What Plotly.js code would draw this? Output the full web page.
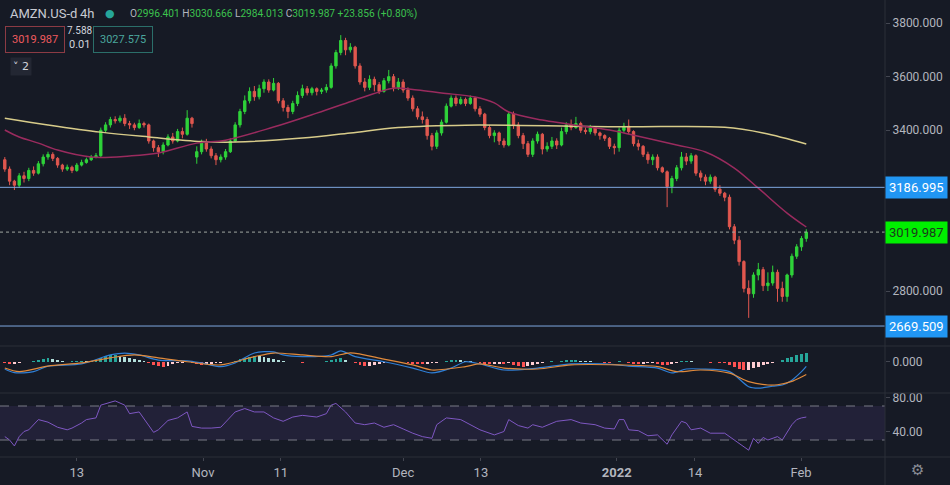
<!DOCTYPE html>
<html><head><meta charset="utf-8">
<script src="https://cdn.plot.ly/plotly-3.0.1.min.js"></script>
<style>html,body{margin:0;padding:0;background:#161a25;}#chart{width:950px;height:485px;}</style>
</head><body><div id="chart"></div>
<script>
// ---- data (4h bars, index 0..167) ----
const openP = [
3290,3255,3210,3195,3230,3220,3250,3240,3275,3300,
3310,3295,3270,3255,3262,3250,3270,3280,3290,3300,
3305,3400,3420,3440,3435,3445,3425,3420,3410,3425,
3420,3360,3335,3320,3345,3375,3360,3395,3385,3445,
3300,3320,3355,3330,3305,3290,3300,3320,3360,3420,
3470,3510,3545,3525,3555,3580,3550,3575,3510,3485,
3470,3500,3530,3555,3540,3555,3545,3550,3560,3640,
3690,3735,3700,3710,3640,3580,3560,3590,3570,3545,
3585,3600,3560,3580,3550,3520,3480,3450,3440,3380,
3340,3390,3430,3490,3520,3500,3515,3500,3520,3480,
3460,3410,3380,3390,3360,3345,3460,3420,3380,3350,
3310,3360,3385,3330,3340,3360,3345,3395,3420,3410,
3425,3400,3395,3410,3390,3380,3370,3340,3335,3400,
3415,3395,3350,3340,3310,3290,3300,3260,3245,3190,
3220,3260,3300,3285,3305,3240,3225,3210,3225,3180,
3165,3150,3040,2990,2910,2810,2790,2860,2880,2820,
2830,2870,2810,2780,2860,2930,2965,2996.401];
const highP = [
3300,3265,3215,3240,3245,3260,3265,3285,3310,3320,
3318,3300,3275,3272,3268,3278,3290,3298,3308,3315,
3410,3430,3450,3452,3455,3460,3435,3428,3440,3432,
3425,3365,3345,3355,3385,3390,3405,3410,3475,3450,
3340,3365,3368,3340,3315,3310,3330,3370,3430,3480,
3530,3560,3565,3570,3590,3590,3595,3580,3520,3495,
3510,3545,3570,3565,3562,3560,3558,3572,3650,3700,
3755,3745,3725,3715,3650,3595,3605,3600,3580,3595,
3625,3610,3595,3590,3560,3530,3490,3470,3450,3390,
3400,3440,3500,3530,3530,3525,3522,3530,3525,3490,
3465,3420,3400,3395,3370,3470,3470,3430,3390,3360,
3370,3395,3390,3355,3375,3370,3410,3430,3440,3450,
3432,3410,3420,3415,3395,3385,3375,3350,3410,3428,
3440,3400,3365,3345,3320,3310,3310,3265,3250,3230,
3270,3319,3315,3315,3310,3250,3235,3235,3230,3195,
3170,3160,3050,3005,2915,2840,2870,2905,2890,2870,
2895,2880,2835,2865,2940,2975,3005,3030.666];
const lowP = [
3245,3195,3177,3185,3205,3210,3230,3235,3265,3290,
3285,3260,3245,3248,3240,3245,3265,3275,3285,3295,
3300,3390,3410,3425,3428,3415,3405,3400,3405,3410,
3350,3320,3300,3310,3340,3350,3355,3370,3380,3410,
3275,3310,3320,3295,3270,3280,3290,3315,3355,3410,
3460,3500,3510,3515,3540,3540,3545,3500,3470,3445,
3460,3490,3520,3530,3530,3530,3535,3540,3555,3630,
3680,3680,3690,3630,3570,3545,3550,3545,3535,3540,
3575,3545,3550,3540,3510,3470,3440,3425,3365,3325,
3330,3380,3425,3485,3490,3495,3490,3495,3470,3450,
3400,3370,3355,3345,3335,3340,3405,3370,3330,3300,
3300,3350,3310,3320,3330,3330,3340,3385,3400,3405,
3390,3385,3385,3380,3365,3360,3330,3310,3320,3390,
3385,3340,3325,3300,3275,3270,3250,3240,3113,3165,
3210,3250,3270,3275,3230,3210,3195,3200,3170,3155,
3135,3030,2975,2895,2795,2700,2775,2840,2800,2800,
2820,2760,2760,2760,2850,2920,2950,2984.013];
const closeP = [
3255,3210,3195,3230,3220,3250,3240,3275,3300,3310,
3295,3270,3255,3262,3250,3270,3280,3290,3300,3305,
3400,3420,3440,3435,3445,3425,3420,3410,3425,3420,
3360,3335,3320,3345,3375,3360,3395,3385,3445,3425,
3320,3355,3330,3305,3290,3300,3320,3360,3420,3470,
3510,3545,3525,3555,3580,3550,3575,3510,3485,3470,
3500,3530,3555,3540,3555,3545,3550,3560,3640,3690,
3735,3700,3710,3640,3580,3560,3590,3570,3545,3585,
3600,3560,3580,3550,3520,3480,3450,3440,3380,3340,
3390,3430,3490,3520,3500,3515,3500,3520,3480,3460,
3410,3380,3390,3360,3345,3460,3420,3380,3350,3310,
3360,3385,3330,3340,3360,3345,3395,3420,3410,3425,
3400,3395,3410,3390,3380,3370,3340,3335,3400,3415,
3395,3350,3340,3310,3290,3300,3260,3245,3190,3220,
3260,3300,3285,3305,3240,3225,3210,3225,3180,3165,
3150,3040,2990,2910,2810,2790,2860,2880,2820,2830,
2870,2810,2780,2860,2930,2965,2996,3019.987];

// moving averages
const ma50Idx = [0,3,7,11,18,26,32,40,46,56,65,73,78,81,86,91,98,102,105,112,126,129,140,146,152,157,163,167];
const ma50Val = [3401,3375,3352,3326,3300,3304,3315,3352,3363,3412,3464,3513,3543,3557,3550,3539,3524,3502,3468,3438,3401,3390,3345,3319,3259,3184,3091,3039];
const ma200Idx = [0,9,20,30,41,48,62,72,82,96,128,150,158,167];
const ma200Val = [3445,3420,3393,3375,3358,3356,3371,3390,3410,3419,3413,3411,3390,3349];

// MACD
const macdIdx = [0,2,6,9,16,22,25,28,32,38,41,45,48,52,56,58,62,68,70,73,79,85,89,93,96,99,104,111,118,125,130,136,139,142,145,151,155,157,160,162,164,166,167];
const macdVal = [-29,-44,-40,-17,-8,29,37,29,8,5,-4,-19,-4,37,42,29,22,29,46,22,1,-25,-45,-25,1,-8,-33,-25,-8,-8,-17,-25,-45,-29,-29,-40,-102,-108,-100,-95,-75,-40,-18];
const sigIdx = [0,3,9,16,22,27,32,38,45,52,56,62,68,72,79,85,89,96,99,104,111,118,128,136,140,145,151,155,159,161,164,166,167];
const sigVal = [-25,-40,-17,-4,17,29,17,1,-12,22,37,29,22,38,12,-12,-33,-19,-8,-25,-29,-12,-12,-19,-40,-33,-46,-81,-95,-94,-80,-62,-52];
const hist = [
-6,-8,-7,-4,
-1,2,3,
8,12,15,12,8,
4,2,3,5,6,5,6,
10,18,24,27,28,26,22,18,14,
9,4,
-6,-14,-18,-20,-16,
-10,-6,-3,-2,
-6,-10,-11,-9,-8,-6,
-4,-2,2,6,
12,18,22,25,24,20,16,12,8,
4,2,-1,-2,
-3,1,2,-1,1,3,
9,14,15,10,
2,-6,-12,-16,-15,-12,-9,
-5,-2,1,2,-2,-4,
-7,-9,-10,-8,-6,-3,2,
6,9,10,9,6,3,
-2,-6,-9,-10,-8,-7,
-10,-6,-12,-16,-19,-15,-12,-8,
-3,1,3,2,4,
7,8,8,6,5,3,
1,-2,-3,-4,-1,3,
2,-3,-7,-9,-8,-6,
-5,-8,-12,-14,-9,-4,
3,5,4,2,1,
-2,-3,-2,-4,-6,
-12,-20,-28,-33,-32,-26,-20,
-14,-8,-4,-1,
8,15,22,28,33,37];

// RSI
const rsiIdx = [0,1,2,3,4,5,7,9,11,13,14,16,17,19,20,23,25,26,28,30,31,32,34,36,38,39,41,43,45,48,50,52,54,56,58,60,62,65,67,68,69,71,73,75,77,79,81,83,85,87,89,90,92,95,97,99,102,104,105,107,109,110,112,115,118,120,123,125,127,128,129,130,132,134,136,138,139,141,142,143,145,147,150,152,153,155,156,157,158,159,161,162,164,165,166,167];
const rsiVal = [34,30,23,34,40,42,54,51,45,42,44,50,54,56,71,76,71,61,63,46,39,42,53,56,63,46,44,44,45,63,67,63,63,56,52,57,59,57,61,71,73,63,50,48,50,45,48,43,38,34,32,48,56,54,48,42,36,40,54,47,44,48,45,52,54,50,48,44,43,54,54,42,41,35,36,25,36,52,50,42,44,38,38,30,26,18,32,26,33,30,34,30,48,54,56,57];

// axis labels
const tickIdx = [15, 41.3, 57.5, 83, 99.2, 127.5, 143.8, 165.9];
const tickLabels = ['13','Nov','11','Dec','13','<b>2022</b>','14','Feb'];
const priceTicks = [2800, 3400, 3600, 3800];
const levels = [3186.995, 2669.509];
const lastPrice = 3019.987;

// ---- chart ----
const BG = '#161a25', TXT = '#b2b5be', SEP = '#2a2e39';
const GREEN = '#2fd33a', RED = '#e0574f';
const idx = closeP.map((_, i) => i);

const histColors = hist.map((v, i) => {
  const p = i > 0 ? hist[i-1] : 0;
  if (v >= 0) return v >= p ? '#26a69a' : '#b2dfdb';
  return v <= p ? '#ff5252' : '#ffcdd2';
});

const traces = [
  {type:'candlestick', x:idx, open:openP, high:highP, low:lowP, close:closeP,
   xaxis:'x', yaxis:'y', whiskerwidth:0,
   increasing:{line:{color:GREEN,width:1}, fillcolor:GREEN},
   decreasing:{line:{color:RED,width:1}, fillcolor:RED}, hoverinfo:'skip'},
  {type:'scatter', mode:'lines', x:ma200Idx, y:ma200Val, yaxis:'y',
   line:{color:'#d8cc8a', width:1.5, shape:'spline', smoothing:1}},
  {type:'scatter', mode:'lines', x:ma50Idx, y:ma50Val, yaxis:'y',
   line:{color:'#9a2b5e', width:1.5, shape:'spline', smoothing:1}},
  {type:'bar', x:idx, y:hist, yaxis:'y2', width:0.6, marker:{color:histColors, line:{width:0}}},
  {type:'scatter', mode:'lines', x:macdIdx, y:macdVal, yaxis:'y2',
   line:{color:'#2f7fd6', width:1.2, shape:'spline', smoothing:0.8}},
  {type:'scatter', mode:'lines', x:sigIdx, y:sigVal, yaxis:'y2',
   line:{color:'#e08a3c', width:1.2, shape:'spline', smoothing:0.8}},
  {type:'scatter', mode:'lines', x:rsiIdx, y:rsiVal, yaxis:'y3',
   line:{color:'#7e57c2', width:1}}
];

const H = 457, W = 885;
const px = x => x / W, py = y => (H - y) / H;
const right = 950 / W;

const shapes = [
  // RSI band and bounds
  {type:'rect', xref:'paper', yref:'y3', x0:0, x1:1, y0:30, y1:70, fillcolor:'rgba(126,87,194,0.12)', line:{width:0}, layer:'below'},
  {type:'line', xref:'paper', yref:'y3', x0:0, x1:1, y0:70, y1:70, line:{color:'#787b86', width:1, dash:'dash'}},
  {type:'line', xref:'paper', yref:'y3', x0:0, x1:1, y0:30, y1:30, line:{color:'#787b86', width:1, dash:'dash'}},
  // level lines
  ...levels.map(v => ({type:'line', xref:'paper', yref:'y', x0:0, x1:1, y0:v, y1:v, line:{color:'#7fa8e0', width:1}})),
  {type:'line', xref:'paper', yref:'y', x0:0, x1:1, y0:lastPrice, y1:lastPrice, line:{color:'#a0a6a0', width:1, dash:'dot'}},
  // pane separators
  {type:'line', xref:'paper', yref:'paper', x0:1, x1:1, y0:-28/H, y1:1, line:{color:SEP, width:1}},
  {type:'line', xref:'paper', yref:'paper', x0:0, x1:right, y0:py(346), y1:py(346), line:{color:SEP, width:1}},
  {type:'line', xref:'paper', yref:'paper', x0:0, x1:right, y0:py(393), y1:py(393), line:{color:SEP, width:1}},
  {type:'line', xref:'paper', yref:'paper', x0:0, x1:right, y0:0, y1:0, line:{color:SEP, width:1}}
];

const F = 'Roboto, "Liberation Sans", sans-serif';
const annotations = [
  ...levels.map(v => ({xref:'paper', yref:'y', x:1, y:v, xanchor:'left', yanchor:'middle', showarrow:false,
    text:v.toFixed(3), bgcolor:'#2196f3', font:{color:'#ffffff', size:13, family:F}, borderpad:3})),
  {xref:'paper', yref:'y', x:1, y:lastPrice, xanchor:'left', yanchor:'middle', showarrow:false,
    text:lastPrice.toFixed(3), bgcolor:'#00f000', font:{color:'#1c3a1c', size:13, family:F}, borderpad:3},
  {xref:'paper', yref:'paper', x:px(8), y:py(13), xanchor:'left', yanchor:'middle', showarrow:false,
    text:'AMZN.US-d', font:{color:'#c8cad2', size:13, family:F}},
  {xref:'paper', yref:'paper', x:px(78), y:py(13), xanchor:'left', yanchor:'middle', showarrow:false,
    text:'4h', font:{color:'#c8cad2', size:13, family:F}},
  {xref:'paper', yref:'paper', x:px(110), y:py(13), xanchor:'center', yanchor:'middle', showarrow:false,
    text:'●', font:{color:'#26a69a', size:11, family:'DejaVu Sans'}},
  {xref:'paper', yref:'paper', x:px(128), y:py(14), xanchor:'left', yanchor:'middle', showarrow:false,
    text:'<span style="color:#b2b5be">O</span>2996.401 <span style="color:#b2b5be">H</span>3030.666 <span style="color:#b2b5be">L</span>2984.013 <span style="color:#b2b5be">C</span>3019.987 +23.856 (+0.80%)',
    font:{color:'#3cc24e', size:10.2, family:F}},
  {xref:'paper', yref:'paper', x:px(35), y:py(39), xanchor:'center', yanchor:'middle', showarrow:false,
    text:'3019.987', font:{color:'#f05a5f', size:11, family:F}, bordercolor:'#8c3b44', borderwidth:1, borderpad:6},
  {xref:'paper', yref:'paper', x:px(79), y:py(31), xanchor:'center', yanchor:'middle', showarrow:false,
    text:'7.588', font:{color:'#d1d4dc', size:10, family:F}},
  {xref:'paper', yref:'paper', x:px(79), y:py(45), xanchor:'center', yanchor:'middle', showarrow:false,
    text:'0.01', font:{color:'#d1d4dc', size:11, family:F}},
  {xref:'paper', yref:'paper', x:px(123), y:py(39), xanchor:'center', yanchor:'middle', showarrow:false,
    text:'3027.575', font:{color:'#4aa69d', size:11, family:F}, bordercolor:'#2b6f6a', borderwidth:1, borderpad:6},
  {xref:'paper', yref:'paper', x:px(21), y:py(66), xanchor:'center', yanchor:'middle', showarrow:false,
    text:'˅ 2', font:{color:'#d1d4dc', size:11, family:'DejaVu Sans'}, bgcolor:'#232733', borderpad:2},
  {xref:'paper', yref:'paper', x:917/W, y:py(470), xanchor:'center', yanchor:'middle', showarrow:false,
    text:'⚙', font:{color:'#8a8d96', size:15, family:'DejaVu Sans'}}
];

const axCommon = {showgrid:false, zeroline:false, showline:false, fixedrange:true};
const layout = {
  width:950, height:485,
  margin:{l:0, r:65, t:0, b:28},
  paper_bgcolor:BG, plot_bgcolor:BG,
  showlegend:false, hovermode:false, bargap:0,
  font:{family:F, color:TXT, size:12},
  xaxis:Object.assign({}, axCommon, {range:[-1, 183.4], anchor:'y3', rangeslider:{visible:false},
    tickmode:'array', tickvals:tickIdx, ticktext:tickLabels, ticks:'outside', ticklen:3, tickcolor:'#434651',
    tickfont:{size:13, color:TXT, family:F}}),
  yaxis:Object.assign({}, axCommon, {domain:[py(346), 1], range:[2595, 3886], side:'right', anchor:'x',
    tickmode:'array', tickvals:priceTicks, ticktext:priceTicks.map(v => v.toFixed(3)),
    ticks:'outside', ticklen:4, tickcolor:'#434651', tickfont:{size:12, color:TXT, family:F}}),
  yaxis2:Object.assign({}, axCommon, {domain:[py(393), py(346)], range:[-128, 66], side:'right', anchor:'x',
    tickmode:'array', tickvals:[0], ticktext:['0.000'],
    ticks:'outside', ticklen:4, tickcolor:'#434651', tickfont:{size:12, color:TXT, family:F}}),
  yaxis3:Object.assign({}, axCommon, {domain:[0, py(393)], range:[10, 85.3], side:'right', anchor:'x',
    tickmode:'array', tickvals:[40, 80], ticktext:['40.00','80.00'],
    ticks:'outside', ticklen:4, tickcolor:'#434651', tickfont:{size:12, color:TXT, family:F}}),
  shapes:shapes, annotations:annotations
};

Plotly.newPlot('chart', traces, layout, {staticPlot:true, displayModeBar:false});
</script>
</body></html>
